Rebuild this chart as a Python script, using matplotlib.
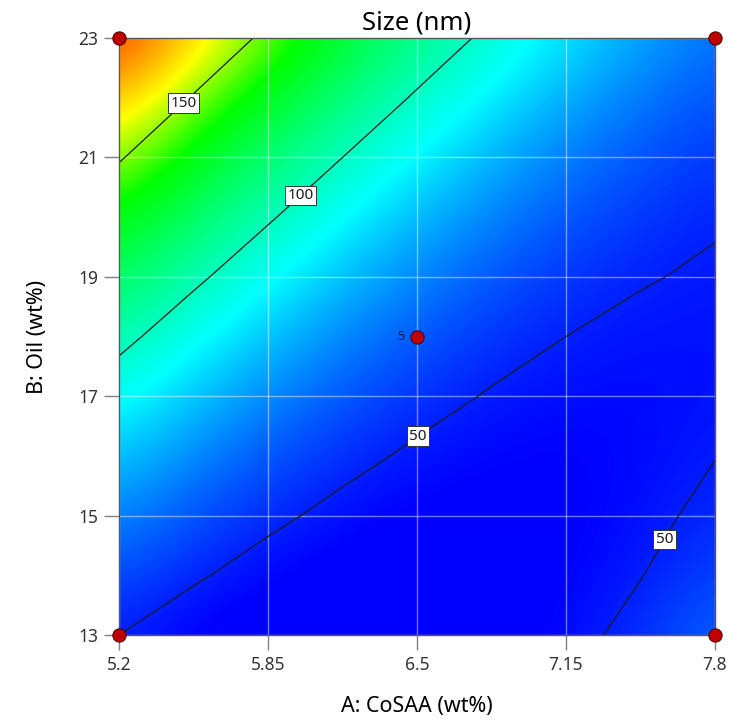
import matplotlib
matplotlib.use("Agg")
import matplotlib.pyplot as plt
import numpy as np
from matplotlib.colors import LinearSegmentedColormap, Normalize

plt.rcParams['font.family'] = ['Noto Sans', 'DejaVu Sans']

# factor levels (grid nodes)
a_levels = [5.2, 5.525, 5.85, 6.175, 6.5, 6.825, 7.15, 7.475, 7.8]   # A: CoSAA (wt%)
b_levels = [13, 14, 15, 16, 17, 18, 19, 20, 21, 22, 23]               # B: Oil (wt%)
a_ticks = [5.2, 5.85, 6.5, 7.15, 7.8]
a_ticklabels = ['5.2', '5.85', '6.5', '7.15', '7.8']
b_ticks = [13, 15, 17, 19, 21, 23]

# predicted size (nm) at the nodes, one row per B level (estimated from contours/colours)
size_b13 = [50.0, 44.4, 40.9, 39.3, 39.8, 42.2, 46.7, 53.2, 61.7]
size_b14 = [58.4, 51.2, 45.9, 42.7, 41.4, 42.2, 44.9, 49.7, 56.5]
size_b15 = [68.1, 59.1, 52.2, 47.2, 44.2, 43.3, 44.4, 47.4, 52.5]
size_b16 = [78.9, 68.3, 59.6, 53.0, 48.3, 45.7, 45.0, 46.4, 49.8]
size_b17 = [91.0, 78.6, 68.3, 59.9, 53.6, 49.2, 46.9, 46.6, 48.2]
size_b18 = [104.3, 90.2, 78.2, 68.1, 60.1, 54.0, 50.0, 48.0, 47.9]
size_b19 = [118.8, 103.0, 89.3, 77.5, 67.8, 60.0, 54.3, 50.6, 48.8]
size_b20 = [134.5, 117.1, 101.6, 88.1, 76.7, 67.2, 59.8, 54.4, 50.9]
size_b21 = [151.5, 132.3, 115.1, 100.0, 86.8, 75.7, 66.5, 59.4, 54.3]
size_b22 = [169.6, 148.8, 129.9, 113.0, 98.2, 85.3, 74.5, 65.6, 58.8]
size_b23 = [189.0, 166.4, 145.9, 127.3, 110.7, 96.2, 83.7, 73.1, 64.6]

contour_levels = [50, 100, 150]

# design points
design_a = [5.2, 5.2, 7.8, 7.8, 6.5]
design_b = [13, 23, 13, 23, 18]
center_reps = "5"

Z = np.array([size_b13, size_b14, size_b15, size_b16, size_b17, size_b18,
              size_b19, size_b20, size_b21, size_b22, size_b23])

# Design-Expert style colour ramp (blue-cyan-green-yellow-red)
vmin, vmax = 45, 198
stops = [(45, (0, 0, 1)), (88, (0, 1, 1)), (136, (0, 1, 0)),
         (160, (1, 1, 0)), (198, (1, 0, 0))]
cmap = LinearSegmentedColormap.from_list(
    'de', [((v - vmin) / (vmax - vmin), c) for v, c in stops])

fig = plt.figure(figsize=(7.3, 7.25), dpi=100)
ax = fig.add_axes([0.163, 0.1241, 0.8164, 0.8234])

da = a_levels[1] - a_levels[0]
db = b_levels[1] - b_levels[0]
ax.imshow(Z, origin='lower', aspect='auto', cmap=cmap,
          norm=Normalize(vmin, vmax, clip=True),
          interpolation='bicubic', interpolation_stage='data',
          extent=[a_levels[0] - da / 2, a_levels[-1] + da / 2,
                  b_levels[0] - db / 2, b_levels[-1] + db / 2])

cs = ax.contour(a_levels, b_levels, Z, levels=contour_levels,
                colors='#1a1a1a', linewidths=0.9)
labels = ax.clabel(cs, fmt='%d', fontsize=11, inline=False,
                   manual=[(5.44, 22.07), (5.98, 20.42), (6.5, 16.35), (7.57, 14.62)])
for t in labels:
    t.set_rotation(0)
    t.set_fontsize(11)
    t.set_bbox(dict(facecolor='white', edgecolor='#333333', pad=1.6, lw=0.7))

ax.set_xlim(a_levels[0], a_levels[-1])
ax.set_ylim(b_levels[0], b_levels[-1])
ax.set_xticks(a_ticks)
ax.set_xticklabels(a_ticklabels)
ax.set_yticks(b_ticks)
ax.grid(True, color='white', alpha=0.45, lw=1)

ax.tick_params(direction='out', length=11, width=1, color='#808080',
               labelsize=12.5, pad=4, labelcolor='#333333')

for s in ax.spines.values():
    s.set_color('#555555')
    s.set_linewidth(1)

ax.plot(design_a, design_b, 'o', ms=9.5, color='#c00000', mec='#500000',
        mew=0.8, clip_on=False, zorder=5)
ax.annotate(center_reps, (design_a[-1], design_b[-1]), xytext=(-9, 0),
            textcoords='offset points', ha='right', va='center',
            fontsize=9, color='#101050', zorder=6)

ax.set_title('Size (nm)', fontsize=18.5, pad=6)
ax.set_xlabel('A: CoSAA (wt%)', fontsize=15.5, labelpad=16)
ax.set_ylabel('B: Oil (wt%)', fontsize=15.5, labelpad=22)

fig.savefig('out.png', dpi=100)
